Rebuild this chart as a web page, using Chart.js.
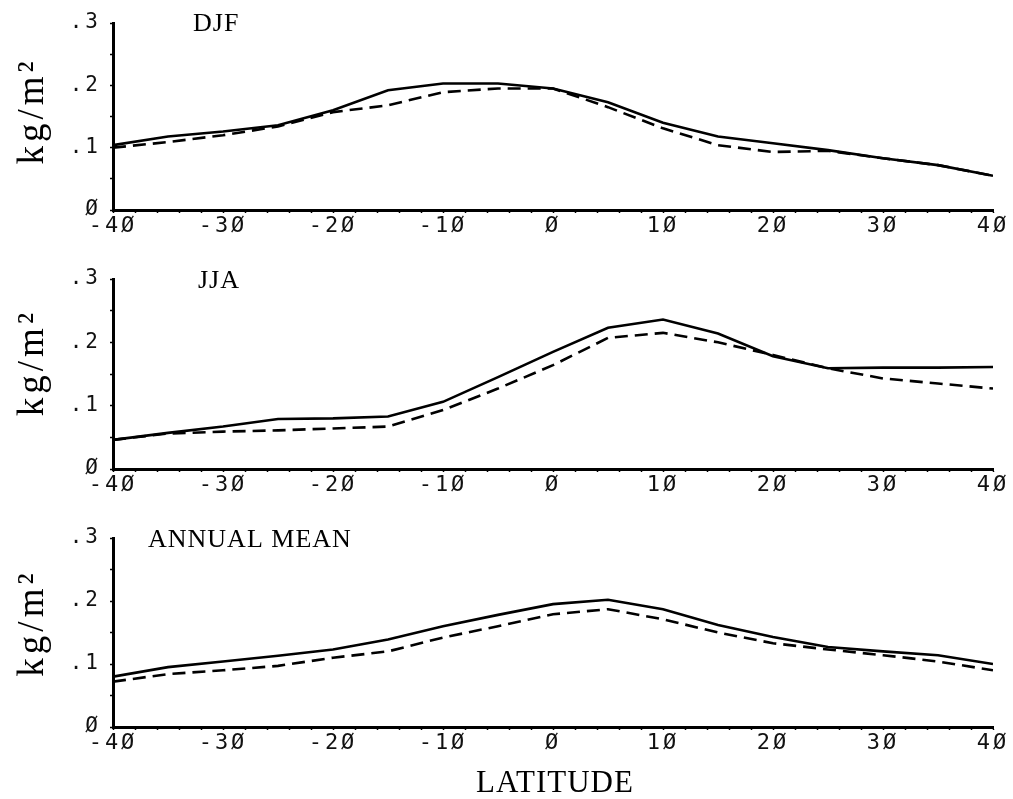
<!DOCTYPE html>
<html>
<head>
<meta charset="utf-8">
<title>Latitude profiles</title>
<script src="https://cdn.jsdelivr.net/npm/chart.js@4.4.0/dist/chart.umd.min.js"></script>
<style>
  body { margin: 0; background: #fff; }
  canvas { position: absolute; left: 0; }
</style>
</head>
<body>
<canvas id="djf" width="1013" height="250" style="top:0px"></canvas>
<canvas id="jja" width="1013" height="260" style="top:250px"></canvas>
<canvas id="ann" width="1013" height="289" style="top:510px"></canvas>
<script>
// latitude points (every 5 degrees)
const latitude = [-40, -35, -30, -25, -20, -15, -10, -5, 0, 5, 10, 15, 20, 25, 30, 35, 40];

// DJF
const djfSolid  = [0.104, 0.118, 0.126, 0.136, 0.160, 0.192, 0.203, 0.203, 0.195, 0.173, 0.140, 0.118, 0.107, 0.096, 0.083, 0.072, 0.055];
const djfDashed = [0.100, 0.109, 0.120, 0.134, 0.157, 0.168, 0.189, 0.195, 0.195, 0.165, 0.131, 0.104, 0.093, 0.095, 0.083, 0.072, 0.055];

// JJA
const jjaSolid  = [0.046, 0.057, 0.067, 0.079, 0.080, 0.083, 0.106, 0.145, 0.185, 0.223, 0.236, 0.214, 0.178, 0.159, 0.160, 0.160, 0.161];
const jjaDashed = [0.046, 0.056, 0.059, 0.061, 0.064, 0.067, 0.093, 0.127, 0.164, 0.207, 0.215, 0.200, 0.180, 0.159, 0.143, 0.135, 0.127];

// annual mean
const annSolid  = [0.080, 0.095, 0.104, 0.113, 0.123, 0.139, 0.160, 0.178, 0.195, 0.202, 0.187, 0.162, 0.143, 0.127, 0.120, 0.114, 0.100];
const annDashed = [0.072, 0.084, 0.090, 0.097, 0.110, 0.120, 0.142, 0.160, 0.179, 0.187, 0.171, 0.150, 0.133, 0.123, 0.114, 0.104, 0.090];

const xTickLabels = { "-40": "-4Ø", "-30": "-3Ø", "-20": "-2Ø", "-10": "-1Ø", "0": "Ø", "10": "1Ø", "20": "2Ø", "30": "3Ø", "40": "4Ø" };
const yTickLabels = { "0": "Ø", "10": ".1", "20": ".2", "30": ".3" };

const tickFont = "DejaVu Sans Mono";
const serif = "Liberation Serif";

function pairs(ys) {
  return latitude.map((x, i) => ({ x: x, y: ys[i] }));
}

// draws panel title, y axis unit and (last panel) LATITUDE
const textPlugin = {
  id: "panelText",
  beforeDraw(chart) {
    chart.ctx.letterSpacing = "3px";
  },
  afterDraw(chart) {
    const o = chart.options.plugins.panelText;
    const ctx = chart.ctx;
    const a = chart.chartArea;
    ctx.save();
    ctx.fillStyle = "#000";
    ctx.letterSpacing = "1px";
    ctx.font = "26px '" + serif + "'";
    ctx.textAlign = "left";
    ctx.textBaseline = "alphabetic";
    ctx.fillText(o.title, o.titleX, o.titleY);

    ctx.save();
    ctx.translate(43, a.top + (a.bottom - a.top) * o.unitPos);
    ctx.rotate(-Math.PI / 2);
    ctx.letterSpacing = "4px";
    ctx.font = "37px '" + serif + "'";
    ctx.textAlign = "center";
    ctx.fillText("kg/m\u00B2", 0, 0);
    ctx.restore();

    if (o.xTitle) {
      ctx.letterSpacing = "1px";
      ctx.font = "31px '" + serif + "'";
      ctx.textAlign = "center";
      ctx.fillText(o.xTitle, 555, o.xTitleY);
    }
    ctx.restore();
  }
};

function makePanel(id, solid, dashed, opt) {
  const h = document.getElementById(id).height;
  return new Chart(document.getElementById(id), {
    type: "line",
    data: {
      datasets: [
        {
          label: "solid",
          data: pairs(solid),
          borderColor: "#000",
          borderWidth: 2.6,
          pointRadius: 0,
          tension: 0,
          fill: false
        },
        {
          label: "dashed",
          data: pairs(dashed),
          borderColor: "#000",
          borderWidth: 2.6,
          borderDash: [13, 7],
          pointRadius: 0,
          tension: 0,
          fill: false
        }
      ]
    },
    options: {
      responsive: false,
      animation: false,
      layout: { padding: { top: opt.top, right: 20, left: 0, bottom: 0 } },
      plugins: {
        legend: { display: false },
        tooltip: { enabled: false },
        panelText: opt.text
      },
      scales: {
        x: {
          type: "linear",
          min: -40,
          max: 40,
          border: { display: true, color: "#000", width: 3 },
          grid: { drawOnChartArea: false, drawTicks: true, tickLength: 3, tickColor: "#000", tickWidth: 1.5 },
          ticks: {
            stepSize: 2,
            maxTicksLimit: 100,
            autoSkip: false,
            maxRotation: 0,
            padding: 0,
            color: "#111",
            font: { family: tickFont, size: 22 },
            callback: (v) => xTickLabels[String(v)] || ""
          },
          afterFit: (scale) => { scale.height = h - opt.bottom; }
        },
        y: {
          min: 0,
          max: 0.3,
          border: { display: true, color: "#000", width: 3 },
          grid: { drawOnChartArea: false, drawTicks: true, tickLength: 3, tickColor: "#000", tickWidth: 1.5 },
          ticks: {
            stepSize: 0.05,
            autoSkip: false,
            padding: 9,
            color: "#111",
            font: { family: tickFont, size: 21 },
            callback: (v) => yTickLabels[String(Math.round(v * 100))] || ""
          },
          afterFit: (scale) => { scale.width = 113; }
        }
      }
    },
    plugins: [textPlugin]
  });
}

makePanel("djf", djfSolid, djfDashed, {
  top: 23, bottom: 210,
  text: { title: "DJF", titleX: 193, titleY: 31, unitPos: 0.47 }
});
makePanel("jja", jjaSolid, jjaDashed, {
  top: 29, bottom: 219,
  text: { title: "JJA", titleX: 198, titleY: 38, unitPos: 0.44 }
});
makePanel("ann", annSolid, annDashed, {
  top: 28, bottom: 217,
  text: { title: "ANNUAL MEAN", titleX: 148, titleY: 37, unitPos: 0.45, xTitle: "LATITUDE", xTitleY: 282 }
});
</script>
</body>
</html>
